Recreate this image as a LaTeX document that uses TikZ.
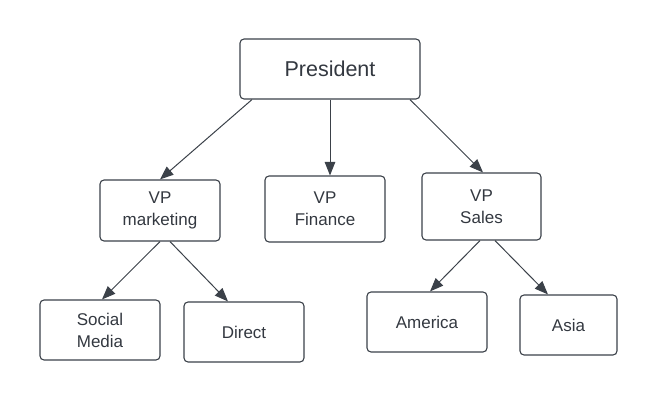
\documentclass[tikz,border=0pt]{standalone}
\usepackage{fontspec}
\setmainfont{Liberation Sans}
\usetikzlibrary{arrows.meta}
\definecolor{edge}{HTML}{3B4149}
\definecolor{ink}{HTML}{333840}

\begin{document}
\begin{tikzpicture}[x=1pt,y=-1pt,
	box/.style={draw=edge,line width=1.1pt,rounded corners=4pt,text=ink,align=center,
		font=\fontsize{17}{22}\selectfont,inner sep=0pt},
	link/.style={draw=edge,line width=1pt,-{Triangle[length=13.5pt,width=10.5pt]}}]
	\useasboundingbox (0,0) rectangle (657,402);
	\node[box,minimum width=180pt,minimum height=60pt,font=\fontsize{21.5}{26}\selectfont] (pres) at (330,69) {President};
	\node[box,minimum width=120pt,minimum height=61pt] (mkt) at (160,210.5) {VP\\marketing};
	\node[box,minimum width=120pt,minimum height=66pt] (fin) at (325,209) {VP\\Finance};
	\node[box,minimum width=119pt,minimum height=67pt] (sales) at (481.5,206.5) {VP\\Sales};
	\node[box,minimum width=120pt,minimum height=60pt] (soc) at (100,330) {Social\\Media};
	\node[box,minimum width=120pt,minimum height=60pt] (dir) at (244,332) {Direct};
	\node[box,minimum width=120pt,minimum height=60pt] (ame) at (427,322) {America};
	\node[box,minimum width=97pt,minimum height=60pt] (asia) at (568.5,325) {Asia};
%	top level
	\draw[link] ([xshift=-78pt]pres.south) -- (mkt.north);
	\draw[link] (pres.south) -- ([xshift=5pt]fin.north);
	\draw[link] ([xshift=80pt]pres.south) -- ([xshift=1.5pt]sales.north);
%	second level
	\draw[link] (mkt.south) -- ([xshift=2pt]soc.north);
	\draw[link] ([xshift=10pt]mkt.south) -- ([xshift=-16pt]dir.north);
	\draw[link] ([xshift=-1.5pt]sales.south) -- ([xshift=3pt]ame.north);
	\draw[link] ([xshift=13.5pt]sales.south) -- ([xshift=-20.5pt]asia.north);
\end{tikzpicture}
\end{document}
